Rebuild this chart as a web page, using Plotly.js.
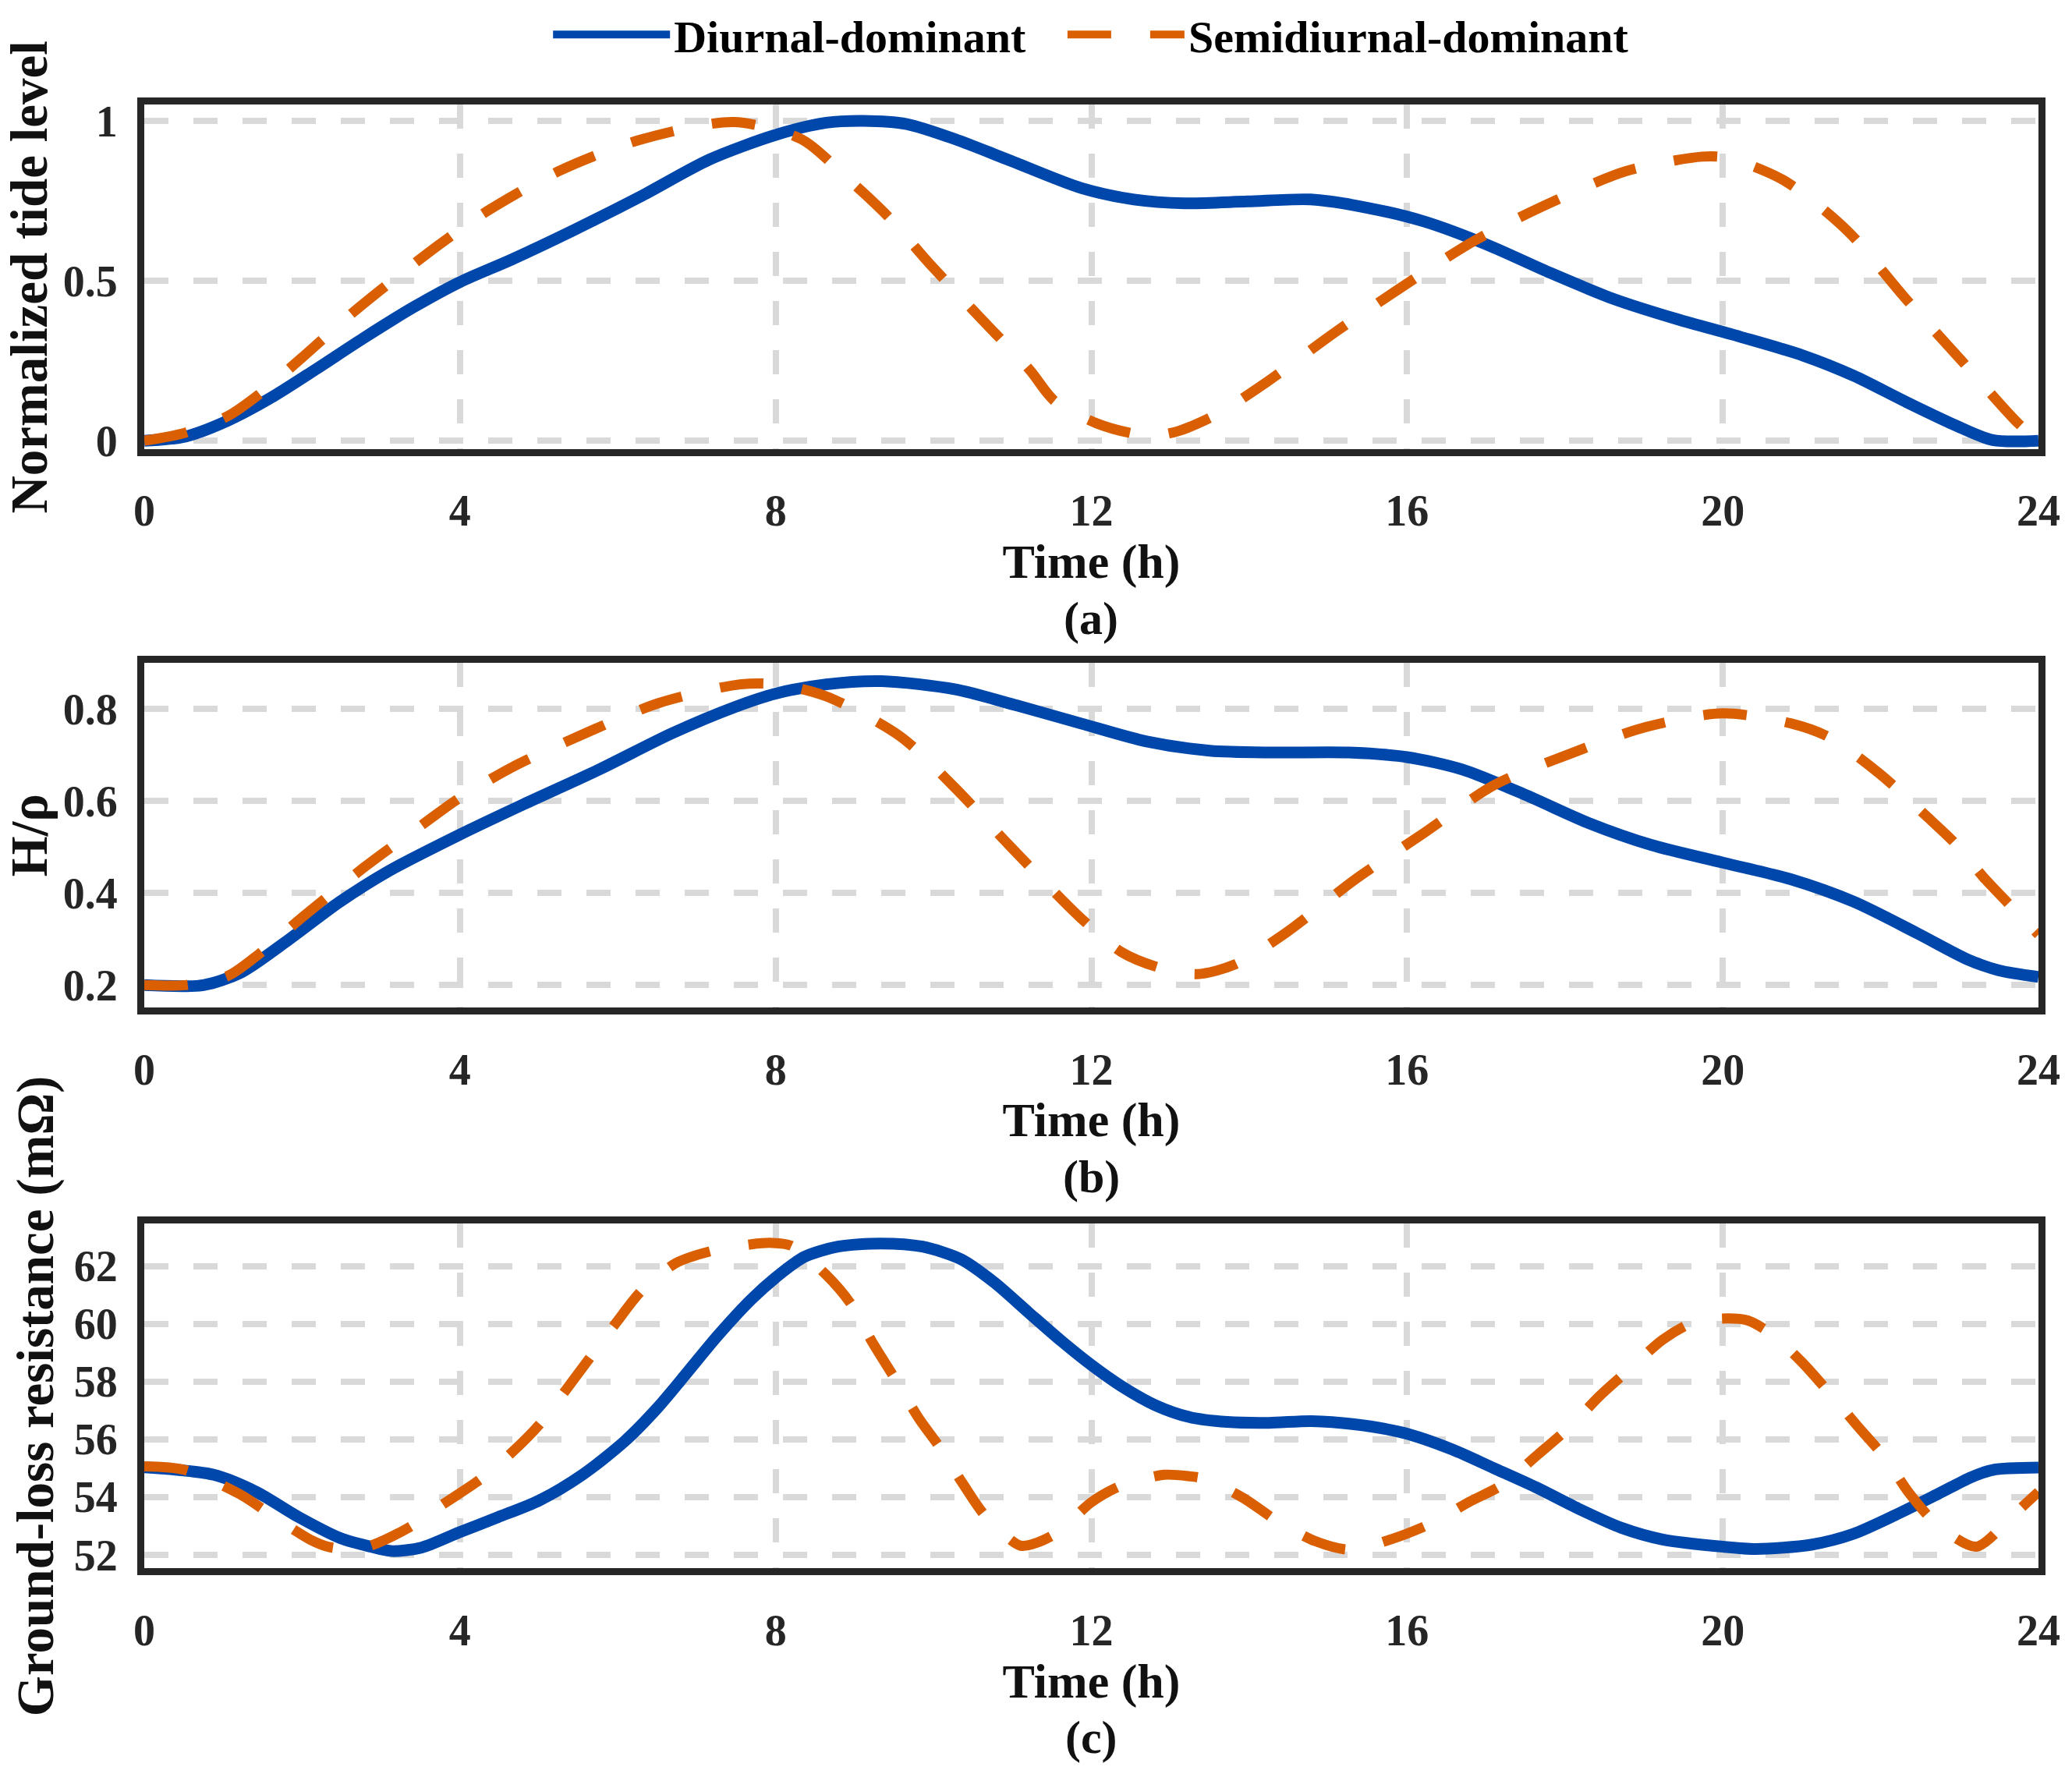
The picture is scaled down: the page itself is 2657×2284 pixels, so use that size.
<!DOCTYPE html>
<html>
<head>
<meta charset="utf-8">
<script src="https://cdn.plot.ly/plotly-3.0.1.min.js"></script>
<style>
  html, body { margin: 0; padding: 0; background: #ffffff; }
  #chart { width: 2657px; height: 2284px; }
</style>
</head>
<body>
<div id="chart"></div>
<script>
// ---------- Data ----------
const seriesNames = ["Diurnal-dominant", "Semidiurnal-dominant"];
const xTickVals = [0, 4, 8, 12, 16, 20, 24];
const panelLabels = ["(a)", "(b)", "(c)"];

// (a) Normalized tide level
const tideTimeDiurnal = [0,0.52,1.06,1.61,2.16,2.78,3.41,4.0,4.66,5.44,6.3,7.16,8.0,8.64,9.11,9.66,10.28,10.98,11.87,12.54,13.18,13.98,14.78,15.5,16.22,17.02,17.82,18.62,19.42,20.22,21.02,21.66,22.3,22.94,23.42,24];
const tideDiurnal = [0,0.013,0.063,0.135,0.221,0.321,0.417,0.496,0.567,0.658,0.765,0.879,0.956,0.994,1.0,0.99,0.942,0.875,0.79,0.754,0.742,0.748,0.754,0.728,0.685,0.612,0.524,0.443,0.38,0.325,0.266,0.203,0.124,0.049,0.002,0];
const tideTimeSemi = [0,0.52,1.06,1.45,2.0,2.63,3.09,3.72,4.34,5.28,6.3,7.47,8.33,8.88,9.42,9.97,10.59,11.22,11.53,12.06,12.54,12.85,13.1,13.58,14.22,15.1,15.98,16.86,17.82,18.78,19.74,20.06,20.78,21.58,22.3,23.02,23.74,24];
const tideSemi = [0,0.025,0.077,0.144,0.26,0.398,0.49,0.61,0.717,0.846,0.942,0.996,0.942,0.827,0.702,0.548,0.385,0.221,0.125,0.055,0.022,0.018,0.03,0.081,0.183,0.341,0.488,0.626,0.744,0.843,0.888,0.884,0.813,0.656,0.449,0.252,0.055,0];
const tideTickVals = [0, 0.5, 1];
const tideTickText = ["0", "0.5", "1"];

// (b) H/rho
const hTimeDiurnal = [0,0.75,1.22,1.84,2.47,3.09,4.0,4.81,5.75,6.69,7.47,8.0,8.64,9.34,10.28,11.06,11.87,12.7,13.5,14.3,15.26,16.0,16.7,17.5,18.3,19.1,20.0,20.86,21.66,22.46,23.1,23.5,24];
const hDiurnal = [0.2,0.2,0.227,0.3,0.38,0.447,0.527,0.593,0.667,0.747,0.803,0.833,0.853,0.86,0.842,0.807,0.768,0.729,0.709,0.705,0.705,0.695,0.668,0.613,0.552,0.504,0.466,0.43,0.381,0.313,0.256,0.232,0.218];
const hTimeSemi = [0,0.52,1.06,1.45,2.0,2.78,3.56,4.0,4.66,5.59,6.53,7.55,8.02,8.64,9.58,10.28,10.98,11.87,12.38,12.86,13.34,13.82,14.46,15.34,16.22,17.1,18.06,19.02,20.0,20.87,21.34,21.98,22.58,22.96,23.3,23.66,24];
const hSemi = [0.2,0.2,0.22,0.267,0.347,0.455,0.553,0.607,0.673,0.747,0.813,0.853,0.853,0.827,0.74,0.627,0.5,0.345,0.272,0.238,0.224,0.245,0.313,0.429,0.531,0.634,0.702,0.76,0.79,0.768,0.739,0.66,0.567,0.505,0.435,0.37,0.31];
const hTickVals = [0.2, 0.4, 0.6, 0.8];
const hTickText = ["0.2", "0.4", "0.6", "0.8"];

// (c) Ground-loss resistance (mOhm)
const rTimeDiurnal = [0,0.88,1.42,1.96,2.49,2.87,3.14,3.51,4.0,4.48,5.01,5.55,6.09,6.51,6.89,7.27,7.69,8.0,8.36,8.79,9.33,9.86,10.35,10.77,11.2,11.63,12.0,12.38,12.81,13.24,13.72,14.25,14.79,15.33,15.96,16.57,17.1,17.64,18.17,18.71,19.24,20.0,20.42,21.12,21.65,22.19,22.73,23.15,23.42,24];
const rDiurnal = [55.03,54.77,54.18,53.3,52.57,52.28,52.13,52.25,52.79,53.3,53.89,54.77,55.94,57.11,58.35,59.6,60.84,61.6,62.31,62.67,62.78,62.67,62.23,61.43,60.4,59.38,58.57,57.84,57.18,56.77,56.6,56.57,56.63,56.52,56.22,55.65,55.0,54.33,53.6,52.94,52.53,52.28,52.2,52.35,52.72,53.38,54.11,54.69,54.94,55.02];
const rTimeSemi = [0,0.51,1.21,1.69,2.12,2.33,2.6,2.87,3.35,3.78,4.26,4.64,5.01,5.34,5.66,5.98,6.3,6.73,7.16,7.69,7.95,8.2,8.63,8.95,9.22,9.52,9.81,10.08,10.37,10.67,11.1,11.31,11.58,12.0,12.38,12.92,13.24,13.45,13.93,14.36,14.84,15.27,15.81,16.3,16.78,17.21,17.64,18.07,18.44,18.82,19.24,19.62,20.0,20.32,20.64,21.01,21.39,21.71,22.08,22.35,22.73,23.21,23.53,23.74,24];
const rSemi = [55.06,54.94,54.1,53.23,52.5,52.28,52.2,52.32,52.94,53.74,54.62,55.5,56.52,57.7,58.87,60.04,61.14,62.09,62.5,62.75,62.8,62.7,61.72,60.7,59.38,58.06,56.74,55.72,54.47,53.3,52.32,52.42,52.79,53.82,54.4,54.77,54.72,54.62,53.96,53.16,52.47,52.18,52.55,53.08,53.82,54.43,55.43,56.45,57.5,58.43,59.45,60.04,60.18,60.11,59.6,58.65,57.48,56.45,55.28,54.18,53.01,52.28,52.94,53.52,54.18];
const rTickVals = [52, 54, 56, 58, 60, 62];
const rTickText = ["52", "54", "56", "58", "60", "62"];

// ---------- Styles ----------
const BLUE = "#0047AB";
const ORANGE = "#D95F02";
const FONT = "Liberation Serif, Times New Roman, serif";
const FRAME = "#262626";
const NB = "\u00a0\u00a0\u00a0"; // spacing after first legend entry

function diurnal(x, y, xa, ya, show) {
  return { x: x, y: y, xaxis: xa, yaxis: ya, type: "scatter", mode: "lines",
    name: seriesNames[0] + NB, showlegend: show, legendgroup: "d",
    line: { color: BLUE, width: 15, shape: "spline", smoothing: 0.8 } };
}
function semi(x, y, xa, ya, show) {
  return { x: x, y: y, xaxis: xa, yaxis: ya, type: "scatter", mode: "lines",
    name: seriesNames[1], showlegend: show, legendgroup: "s",
    line: { color: ORANGE, width: 13, dash: "56px,50px", shape: "spline", smoothing: 0.8 } };
}

const traces = [
  diurnal(tideTimeDiurnal, tideDiurnal, "x", "y", true),
  semi(tideTimeSemi, tideSemi, "x", "y", true),
  diurnal(hTimeDiurnal, hDiurnal, "x2", "y2", false),
  semi(hTimeSemi, hSemi, "x2", "y2", false),
  diurnal(rTimeDiurnal, rDiurnal, "x3", "y3", false),
  semi(rTimeSemi, rSemi, "x3", "y3", false)
];

const xDomain = [185 / 2657, 2614 / 2657];
function xAxis(anchor) {
  return {
    anchor: anchor, domain: xDomain, range: [0, 24],
    tickmode: "array", tickvals: xTickVals, ticktext: xTickVals.map(String),
    showgrid: true, gridcolor: "#d9d9d9", gridwidth: 8, griddash: "31px,32px",
    showline: true, linecolor: FRAME, linewidth: 9, mirror: true,
    zeroline: false, ticks: "", ticklabelstandoff: 22,
    tickfont: { family: FONT, size: 56, color: FRAME, weight: "bold" },
    title: { text: "Time (h)", standoff: 12, font: { family: FONT, size: 62, color: "#111", weight: "bold" } }
  };
}
function yAxis(anchor, domain, range, vals, text, title) {
  return {
    anchor: anchor, domain: domain, range: range,
    tickmode: "array", tickvals: vals, ticktext: text,
    showgrid: true, gridcolor: "#d9d9d9", gridwidth: 8, griddash: "31px,32px",
    showline: true, linecolor: FRAME, linewidth: 9, mirror: true,
    zeroline: false, ticks: "", ticklabelstandoff: 14,
    tickfont: { family: FONT, size: 56, color: FRAME, weight: "bold" },
    title: { text: title, standoff: 8, font: { family: FONT, size: 67, color: "#111", weight: "bold" } }
  };
}

const layout = {
  width: 2657, height: 2284,
  margin: { l: 0, r: 0, t: 0, b: 0 },
  paper_bgcolor: "#ffffff", plot_bgcolor: "#ffffff",
  showlegend: true,
  legend: {
    orientation: "h", x: 0.5266, xanchor: "center", y: 0.982, yanchor: "middle",
    font: { family: FONT, size: 58, color: "#000", weight: "bold" },
    itemwidth: 150, bgcolor: "rgba(0,0,0,0)", tracegroupgap: 0
  },
  xaxis: xAxis("y"),
  yaxis: yAxis("x", [1 - 574 / 2284, 1 - 131.6 / 2284], [-0.027, 1.05], tideTickVals, tideTickText, "Normalized tide level"),
  xaxis2: xAxis("y2"),
  yaxis2: yAxis("x2", [1 - 1291 / 2284, 1 - 848 / 2284], [0.151, 0.9], hTickVals, hTickText, "H/ρ"),
  xaxis3: xAxis("y3"),
  yaxis3: yAxis("x3", [1 - 2011 / 2284, 1 - 1568.5 / 2284], [51.53, 63.46], rTickVals, rTickText, "Ground-loss resistance (mΩ)"),
  annotations: [
    { text: panelLabels[0], xref: "paper", yref: "paper", x: 0.5266, y: 1 - 791 / 2284, yanchor: "middle", showarrow: false,
      font: { family: FONT, size: 60, color: "#111", weight: "bold" } },
    { text: panelLabels[1], xref: "paper", yref: "paper", x: 0.5266, y: 1 - 1508 / 2284, yanchor: "middle", showarrow: false,
      font: { family: FONT, size: 60, color: "#111", weight: "bold" } },
    { text: panelLabels[2], xref: "paper", yref: "paper", x: 0.5266, y: 1 - 2228 / 2284, yanchor: "middle", showarrow: false,
      font: { family: FONT, size: 60, color: "#111", weight: "bold" } }
  ]
};

Plotly.newPlot("chart", traces, layout, { staticPlot: true, displayModeBar: false });
</script>
</body>
</html>
